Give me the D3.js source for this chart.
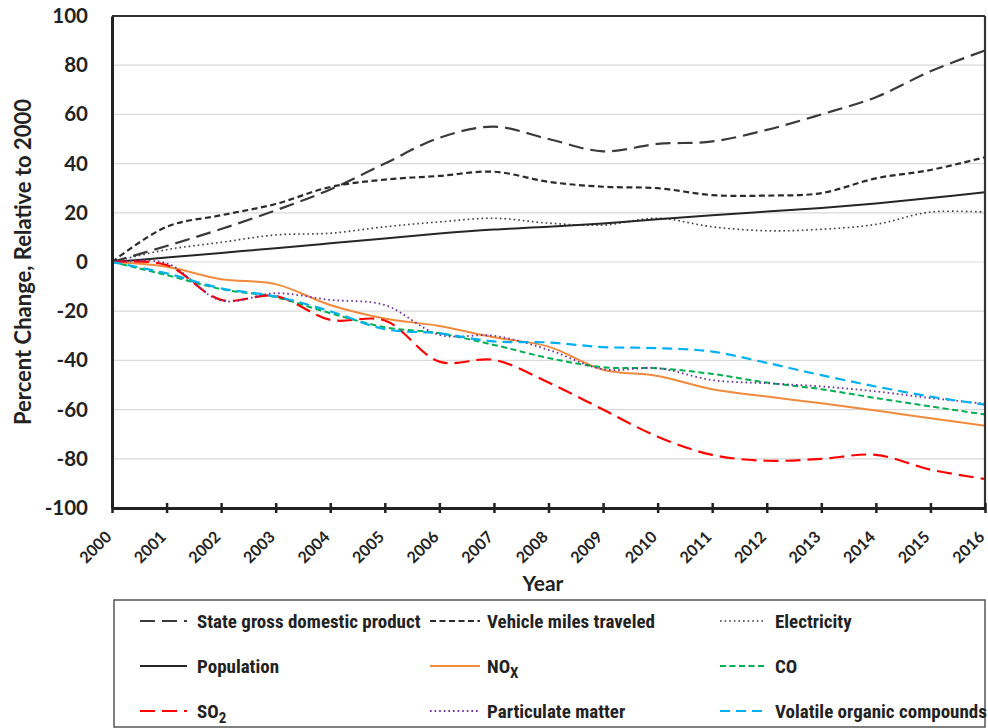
<!DOCTYPE html>
<html><head><meta charset="utf-8">
<script src="https://cdn.jsdelivr.net/npm/d3@7"></script>
<style>
html,body{margin:0;padding:0;background:#fff;}
svg{display:block;}
</style></head>
<body>
<svg id="c" width="988" height="728"></svg>
<script>
const years = [2000,2001,2002,2003,2004,2005,2006,2007,2008,2009,2010,2011,2012,2013,2014,2015,2016];
const yTicks = [-100,-80,-60,-40,-20,0,20,40,60,80,100];

const gdp        = [0,6.5,13.4,21,29.5,40,50.5,55,50,45,48,49,53.7,60,67,77.5,86];
const vmt        = [0,14.3,19,23.6,30.5,33.5,35,36.7,32.6,30.6,30,27.2,27,28,34,37.4,42.6];
const electricity= [0,5,8,11,11.7,14.3,16.3,17.8,15.8,15,17.8,14.3,12.7,13.3,15.3,20.3,20.3];
const population = [0,1.8,3.7,5.6,7.6,9.6,11.6,13.2,14.3,15.7,17.4,19,20.5,22,23.8,26,28.4];
const nox        = [0,-1.9,-7,-9,-17.5,-23,-26,-30.6,-34.4,-43.8,-46.3,-51.7,-54.7,-57.4,-60.4,-63.5,-66.6];
const co         = [0,-5.3,-11,-14.3,-20.8,-26.5,-29,-33.7,-39,-42.8,-43.2,-45.5,-49,-51.7,-55.3,-58.7,-62];
const so2        = [0,-1.2,-15.4,-13.8,-23.5,-23.8,-40.5,-39.8,-49,-60,-71,-78.4,-80.8,-80,-78.4,-84.4,-88.2];
const pm         = [0,-0.5,-15.7,-12.7,-15.4,-17.5,-29.6,-30,-35.7,-43.6,-43.2,-48,-49.3,-50.6,-52.6,-55.3,-57.6];
const voc        = [0,-4.6,-10.7,-14,-20,-27.3,-29,-32.3,-32.7,-34.6,-35,-36.4,-41,-46,-50.6,-54.7,-58];

const seriesNames = ["State gross domestic product","Vehicle miles traveled","Electricity","Population","NOx","CO","SO2","Particulate matter","Volatile organic compounds"];
const seriesValues = [gdp,vmt,electricity,population,nox,co,so2,pm,voc];
const styles = [
  {c:"#3a3a3a", w:2.2, d:"15,7"},
  {c:"#2b2b2b", w:2.2, d:"6,3.5"},
  {c:"#3a3a3a", w:1.6, d:"1.6,3"},
  {c:"#262626", w:2, d:null},
  {c:"#F08A3C", w:2, d:null},
  {c:"#00B050", w:2, d:"6,3.5"},
  {c:"#FF0000", w:2.2, d:"15,7"},
  {c:"#7030A0", w:1.8, d:"1.6,3"},
  {c:"#00B0F0", w:2.2, d:"10,6"}
];

const svg = d3.select("#c");
const L=112, R=985, T=16, B=508;
const x = d3.scaleLinear().domain([2000,2016]).range([L,R]);
const y = d3.scaleLinear().domain([-100,100]).range([B,T]);
const FONT = "Lato, 'Open Sans', sans-serif";

// gridlines
svg.append("g").selectAll("line").data(yTicks.filter(v=>v>-100&&v<100)).join("line")
  .attr("x1",L).attr("x2",R).attr("y1",d=>y(d)).attr("y2",d=>y(d))
  .attr("stroke","#d9d9d9").attr("stroke-width",1.2);

// lines
const line = d3.line().x((d,i)=>x(years[i])).y(d=>y(d)).curve(d3.curveCatmullRom.alpha(0.5));
seriesValues.forEach((vals,k)=>{
  const s=styles[k];
  svg.append("path").attr("d",line(vals)).attr("fill","none")
    .attr("stroke",s.c).attr("stroke-width",s.w)
    .attr("stroke-dasharray",s.d).attr("stroke-linecap","butt");
});

// frame
svg.append("line").attr("x1",L).attr("x2",R).attr("y1",T).attr("y2",T).attr("stroke","#333").attr("stroke-width",2.2);
svg.append("line").attr("x1",R).attr("x2",R).attr("y1",T).attr("y2",B).attr("stroke","#333").attr("stroke-width",2.2);

// y axis
const yAxis = svg.append("g").attr("transform",`translate(${L},0)`)
  .call(d3.axisLeft(y).tickValues(yTicks).tickFormat(d=>String(d)).tickSize(0).tickPadding(24));
yAxis.select(".domain").attr("stroke","#222").attr("stroke-width",3);
yAxis.selectAll("text").attr("font-family",FONT).attr("font-weight","bold")
  .attr("font-size","20.5px").attr("fill","#222");

// x axis
const xAxis = svg.append("g").attr("transform",`translate(0,${B})`)
  .call(d3.axisBottom(x).tickValues(years).tickFormat(d3.format("d")).tickSizeInner(5).tickSizeOuter(0));
xAxis.select(".domain").attr("stroke","#222").attr("stroke-width",3);
xAxis.selectAll(".tick line").attr("stroke","#222").attr("stroke-width",2.5).attr("y1",-5);
xAxis.selectAll("text").attr("font-family",FONT).attr("font-weight","bold")
  .attr("font-size","16px").attr("fill","#222")
  .attr("text-anchor","end").attr("dy",null).attr("y",0)
  .attr("transform","translate(0,30) rotate(-45)");

// axis titles
svg.append("text").attr("x",543).attr("y",591).attr("text-anchor","middle")
  .attr("font-family",FONT).attr("font-weight","bold").attr("font-size","21px").attr("fill","#222").text("Year");
svg.append("text").attr("transform","translate(31,262) rotate(-90)").attr("text-anchor","middle")
  .attr("font-family",FONT).attr("font-weight","bold").attr("font-size","22px").attr("fill","#222")
  .text("Percent Change, Relative to 2000");

// legend
svg.append("rect").attr("x",114).attr("y",600).attr("width",871).attr("height",127)
  .attr("fill","none").attr("stroke","#555").attr("stroke-width",1.5);
const colX=[[140,187,197],[430,480,487],[720,765,775]];
const rowY=[621,666,711];
const lg = svg.append("g").attr("font-family","'Liberation Sans Narrow','Arial Narrow','Roboto Condensed',sans-serif")
  .attr("font-weight","bold").attr("font-size","19px").attr("fill","#222");
seriesNames.forEach((name,k)=>{
  const r=Math.floor(k/3), c=k%3, s=styles[k];
  const yy=rowY[r];
  lg.append("line").attr("x1",colX[c][0]).attr("x2",colX[c][1]).attr("y1",yy).attr("y2",yy)
    .attr("stroke",s.c).attr("stroke-width",s.w).attr("stroke-dasharray",s.d);
  const t=lg.append("text").attr("x",colX[c][2]).attr("y",yy+6.5);
  if(name==="NOx"){ t.append("tspan").text("NO"); t.append("tspan").attr("dy",5).attr("font-size","15px").text("X"); }
  else if(name==="SO2"){ t.append("tspan").text("SO"); t.append("tspan").attr("dy",5).attr("font-size","15px").text("2"); }
  else t.text(name);
});
</script>
</body></html>
